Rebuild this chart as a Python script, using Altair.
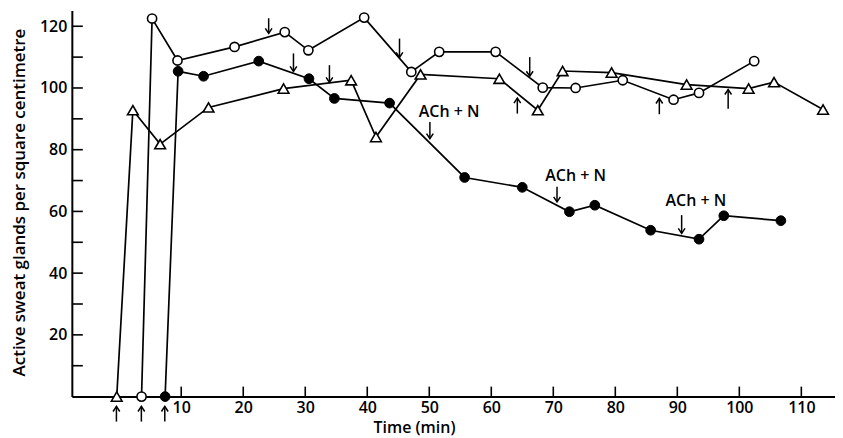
import altair as alt
import pandas as pd

# ---- data ----
tri_t = [-0.4, 2.2, 6.6, 14.4, 26.5, 37.4, 41.4, 48.6, 61.3, 67.5, 71.5, 79.4, 91.5, 101.5, 105.6, 113.5]
tri_v = [0, 92.8, 81.8, 93.7, 99.8, 102.5, 84.1, 104.4, 103.0, 92.8, 105.5, 105.0, 101.1, 99.8, 101.9, 93.0]

open_t = [3.6, 5.3, 9.4, 18.6, 26.7, 30.5, 39.5, 47.1, 51.6, 60.7, 68.3, 73.6, 81.2, 89.4, 93.5, 102.4]
open_v = [0, 122.5, 108.9, 113.3, 118.1, 112.2, 122.8, 105.2, 111.7, 111.7, 100.1, 100.0, 102.5, 96.2, 98.4, 108.7]

filled_t = [7.4, 9.5, 13.6, 22.5, 30.6, 34.7, 43.6, 55.7, 65.0, 72.6, 76.7, 85.7, 93.5, 97.5, 106.7]
filled_v = [0, 105.4, 103.8, 108.7, 103.0, 96.6, 95.1, 71.0, 67.8, 59.9, 62.0, 53.9, 51.0, 58.6, 57.0]

# arrows: time, tip value, tail value
down_t = [24.1, 28.1, 33.9, 45.2, 50.1, 66.2, 70.6, 90.7]
down_tip = [117.7, 105.4, 101.8, 109.9, 83.6, 103.8, 63.1, 52.9]
down_tail = [122.6, 111.2, 107.4, 116.0, 89.0, 110.0, 68.0, 58.8]

up_t = [64.2, 87.1, 98.2, -0.45, 3.57, 7.35]
up_tip = [96.7, 96.6, 99.5, -3.2, -3.2, -3.2]
up_tail = [91.7, 91.5, 93.3, -8.1, -8.1, -8.1]

label_text = ["ACh + N", "ACh + N", "ACh + N"]
label_t = [53.2, 73.6, 93.0]
label_v = [92.2, 71.5, 63.4]

y_ticks = [10, 20, 30, 40, 50, 60, 70, 80, 90, 100, 110, 120]
y_labels = [20, 40, 60, 80, 100, 120]
x_ticks = [10, 20, 30, 40, 50, 60, 70, 80, 90, 100, 110]

X_DOMAIN = [-7.64, 115.43]
Y_DOMAIN = [0, 125.1]
W, H = 765, 387
FONT = "Open Sans"

rows = []
for name, ts, vs in [("tri", tri_t, tri_v), ("open", open_t, open_v), ("filled", filled_t, filled_v)]:
    for i, (t, v) in enumerate(zip(ts, vs)):
        rows.append({"series": name, "t": t, "v": v, "i": i})
df = pd.DataFrame(rows)

down_df = pd.DataFrame({"t": down_t, "tip": down_tip, "tail": down_tail})
up_df = pd.DataFrame({"t": up_t, "tip": up_tip, "tail": up_tail})
lab_df = pd.DataFrame({"t": label_t, "v": label_v, "text": label_text})
yt_df = pd.DataFrame({"v": y_ticks})
xt_df = pd.DataFrame({"t": x_ticks})

xs = alt.Scale(domain=X_DOMAIN, nice=False, zero=False)
ys = alt.Scale(domain=Y_DOMAIN, nice=False, zero=False)

x_axis = alt.Axis(values=x_ticks, ticks=False, grid=False, domainColor="black", domainWidth=2,
                  labelFont=FONT, labelFontSize=16, labelFontWeight=600, labelColor="black",
                  labelPadding=3, title="Time (min)", titleFont=FONT, titleFontSize=16,
                  titleFontWeight=600, titleColor="black", titleX=343, titleY=36,
                  titleAnchor="start", titleAlign="center", titleBaseline="alphabetic")
y_axis = alt.Axis(values=y_labels, ticks=False, grid=False, domainColor="black", domainWidth=2,
                  labelFont=FONT, labelFontSize=16, labelFontWeight=600, labelColor="black",
                  labelPadding=5, title="Active sweat glands per square centimetre",
                  titleFont=FONT, titleFontSize=17, titleFontWeight=600, titleColor="black",
                  titleAngle=270, titleX=-52, titleY=192, titleAlign="center",
                  titleBaseline="middle", titleAnchor="start")

base = alt.Chart(df)

lines = base.mark_line(color="black", strokeWidth=1.7).encode(
    x=alt.X("t:Q", scale=xs, axis=x_axis),
    y=alt.Y("v:Q", scale=ys, axis=y_axis),
    detail="series:N",
    order="i:Q",
)

tri_pts = base.transform_filter(alt.datum.series == "tri").mark_point(
    shape="triangle-up", filled=True, fill="white", stroke="black", strokeWidth=1.6, size=115, opacity=1
).encode(x=alt.X("t:Q", scale=xs), y=alt.Y("v:Q", scale=ys))

open_pts = base.transform_filter(alt.datum.series == "open").mark_point(
    shape="circle", filled=True, fill="white", stroke="black", strokeWidth=1.6, size=85, opacity=1
).encode(x=alt.X("t:Q", scale=xs), y=alt.Y("v:Q", scale=ys))

filled_pts = base.transform_filter(alt.datum.series == "filled").mark_point(
    shape="circle", filled=True, fill="black", stroke="black", strokeWidth=1, size=95, opacity=1
).encode(x=alt.X("t:Q", scale=xs), y=alt.Y("v:Q", scale=ys))

down_shaft = alt.Chart(down_df).mark_rule(color="black", strokeWidth=1.5).encode(
    x=alt.X("t:Q", scale=xs), y=alt.Y("tip:Q", scale=ys), y2="tail:Q")
down_head = alt.Chart(down_df).mark_point(
    shape="M-1,-1.5L0,0L1,-1.5", filled=False, stroke="black", strokeWidth=1.5, size=45, opacity=1
).encode(x=alt.X("t:Q", scale=xs), y=alt.Y("tip:Q", scale=ys))

up_shaft = alt.Chart(up_df).mark_rule(color="black", strokeWidth=1.5).encode(
    x=alt.X("t:Q", scale=xs), y=alt.Y("tip:Q", scale=ys), y2="tail:Q")
up_head = alt.Chart(up_df).mark_point(
    shape="M-1,1.5L0,0L1,1.5", filled=False, stroke="black", strokeWidth=1.5, size=45, opacity=1
).encode(x=alt.X("t:Q", scale=xs), y=alt.Y("tip:Q", scale=ys))

labels = alt.Chart(lab_df).mark_text(
    font=FONT, fontSize=16, fontWeight=600, color="black", align="center", baseline="middle"
).encode(x=alt.X("t:Q", scale=xs), y=alt.Y("v:Q", scale=ys), text="text:N")

ytick_marks = alt.Chart(yt_df).mark_rule(color="black", strokeWidth=1.6).encode(
    y=alt.Y("v:Q", scale=ys), x=alt.value(0), x2=alt.value(11))
xtick_marks = alt.Chart(xt_df).mark_rule(color="black", strokeWidth=1.6).encode(
    x=alt.X("t:Q", scale=xs), y=alt.value(H), y2=alt.value(H - 10))

chart = alt.layer(
    lines, ytick_marks, xtick_marks, down_shaft, down_head, up_shaft, up_head,
    tri_pts, open_pts, filled_pts, labels
).properties(
    width=W, height=H,
    autosize=alt.AutoSizeParams(type="none"),
    padding={"left": 64, "top": 2, "right": 0, "bottom": 41},
    background="white",
).configure_view(stroke=None)

chart.save("out.html", embed_options={"renderer": "svg", "actions": False})
